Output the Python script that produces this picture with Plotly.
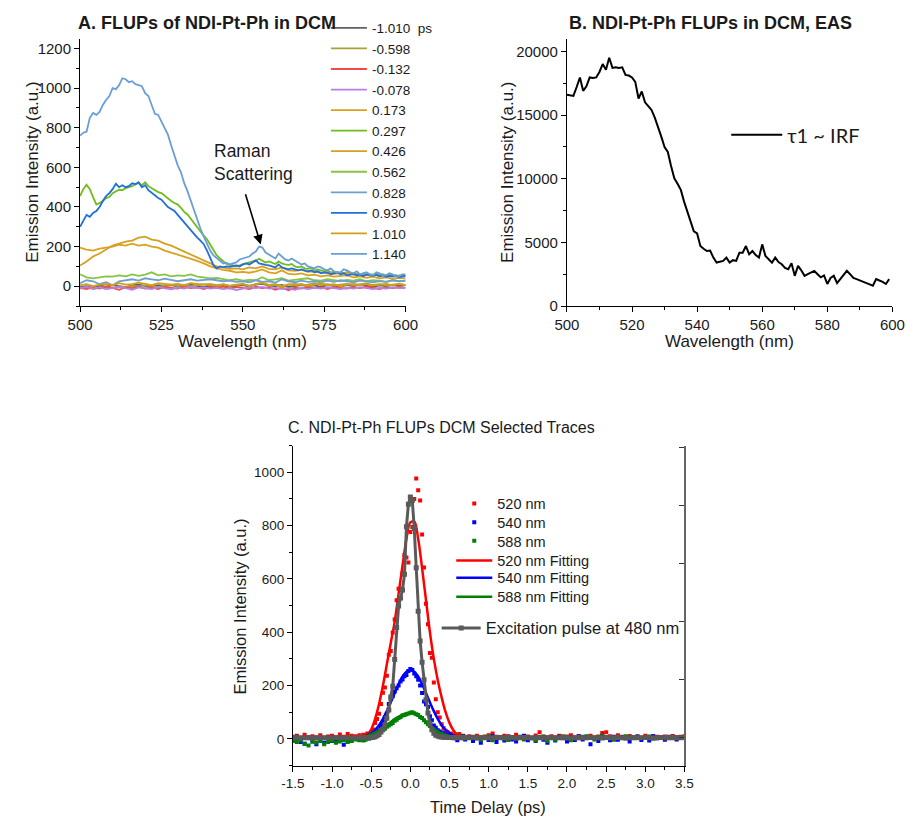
import plotly.graph_objects as go

W, H = 920, 827


def px(x):
    return x / W


def py(y):
    return 1 - y / H


FONT = "Arial, Liberation Sans, sans-serif"
INK = "#1a1a1a"

# ---------------- Panel A: FLUPs spectra at selected delays ----------------
wl_1nm = list(range(500, 601))
wl_2nm = list(range(500, 601, 2))

spec_m1010 = [-5, 0, -8, 3, -2, 5, 0, -6, 4, 8,
              2, -3, 5, 0, 6, -2, 4, 8, 2, -4,
              3, 0, 6, -3, 2, 5, -2, 8, 12, 3,
              0, 6, -4, 2, 5, 0, 4, -3, 6, 2,
              -2, 5, 0, 8, 3, -3, 4, 0, 6, 2,
              5]
spec_m0598 = [-12, -5, -15, -8, -2, -10, 0, -5, 2, -3,
              5, 0, -5, 3, 8, 0, 5, -2, 6, 10,
              4, 0, 8, 2, 5, 10, 3, 12, 18, 6,
              10, 2, 8, 12, 5, 8, 15, 6, 10, 4,
              8, 12, 5, 10, 14, 6, 10, 4, 8, 12,
              6]
spec_m0132 = [-8, -15, -5, -12, -2, -8, -18, -5, -10, -3,
              -12, -6, -15, -4, -8, -12, -2, -10, -6, -14,
              -4, -9, -2, -12, -5, -8, -15, -3, -10, -5,
              -18, -6, -20, -8, -12, -4, -10, -6, -15, -3,
              -8, -12, -5, -10, -2, -8, -14, -6, -10, -4,
              -8]
spec_m0078 = [-10, -3, -12, -6, -15, -8, -4, -10, -18, -6,
              -9, -14, -5, -10, -16, -7, -12, -4, -10, -6,
              -12, -8, -15, -10, -20, -12, -6, -10, -4, -12,
              -8, -14, -10, -18, -9, -15, -8, -12, -6, -10,
              -14, -8, -12, -5, -10, -15, -8, -12, -6, -10,
              -8]
spec_p0173 = [195, 185, 180, 190, 195, 200, 210, 205, 215, 205,
              210, 200, 195, 180, 170, 160, 150, 140, 128, 115,
              100, 90, 82, 78, 70, 72, 68, 75, 85, 70,
              65, 80, 62, 60, 65, 55, 58, 50, 55, 48,
              52, 55, 45, 50, 42, 48, 40, 45, 38, 42,
              40]
spec_p0297 = [455, 490, 512, 490, 450, 412, 420, 430, 445, 450,
              470, 480, 487, 485, 495, 500, 505, 515, 520, 510,
              525, 505, 495, 487, 475, 470, 455, 445, 430, 420,
              412, 395, 375, 362, 340, 318, 295, 275, 255, 237,
              210, 185, 155, 140, 125, 112, 108, 105, 102, 105,
              110, 115, 118, 122, 130, 138, 128, 120, 125, 118,
              112, 125, 115, 110, 108, 112, 100, 95, 100, 90,
              88, 92, 80, 85, 78, 75, 80, 70, 72, 68,
              70, 65, 72, 60, 65, 62, 58, 65, 55, 60,
              58, 62, 55, 60, 52, 58, 55, 50, 55, 52,
              55]
spec_p0426 = [105, 125, 150, 165, 185, 205, 215, 225, 230, 245,
              250, 235, 230, 215, 205, 190, 175, 160, 145, 130,
              115, 100, 95, 88, 90, 85, 95, 90, 100, 88,
              85, 95, 80, 78, 82, 72, 75, 68, 70, 62,
              65, 68, 58, 62, 55, 58, 52, 56, 50, 52,
              50]
spec_p0562 = [60, 45, 40, 45, 50, 48, 55, 50, 60, 52,
              58, 70, 55, 60, 50, 55, 52, 60, 48, 45,
              40, 42, 35, 30, 35, 28, 32, 30, 45, 30,
              35, 40, 28, 32, 35, 40, 30, 28, 35, 30,
              25, 32, 28, 35, 25, 30, 28, 22, 30, 25,
              28]
spec_p0828 = [15, 30, 25, 10, 20, 5, 25, 30, 35, 28,
              40, 35, 30, 38, 32, 25, 30, 35, 28, 32,
              35, 30, 25, 28, 22, 25, 20, 30, 22, 25,
              18, 35, 25, 20, 28, 22, 25, 20, 28, 22,
              30, 25, 20, 28, 24, 20, 26, 22, 30, 25,
              28]
spec_p0930 = [300, 330, 360, 350, 370, 380, 400, 430, 455, 470,
              490, 517, 500, 510, 500, 505, 520, 515, 525, 500,
              510, 485, 470, 460, 445, 437, 420, 400, 390, 380,
              360, 340, 325, 305, 285, 260, 245, 230, 212, 180,
              140, 105, 90, 100, 95, 100, 98, 100, 105, 100,
              110, 115, 110, 120, 130, 115, 110, 108, 105, 100,
              95, 110, 95, 90, 85, 90, 85, 80, 85, 80,
              75, 80, 70, 75, 65, 70, 68, 60, 65, 70,
              60, 65, 55, 60, 62, 55, 58, 50, 60, 55,
              52, 58, 50, 55, 48, 52, 50, 55, 45, 50,
              52]
spec_p1010 = [5, 10, 0, 8, 12, 5, 15, 8, 10, 18,
              12, 5, 15, 10, 8, 12, 5, 15, 10, 8,
              12, 5, 10, 2, 8, 12, 0, 10, 15, 5,
              8, -5, 10, 5, 12, 2, 8, 15, 5, 10,
              0, 8, 12, 5, 10, 3, 8, 12, 5, 10,
              6]
spec_p1140 = [760, 775, 780, 850, 875, 865, 880, 915, 940, 960,
              1000, 995, 1015, 1050, 1045, 1030, 1035, 1020, 1015, 1010,
              975, 960, 915, 870, 865, 830, 800, 765, 710, 660,
              610, 575, 520, 480, 430, 385, 330, 290, 250, 210,
              180, 155, 140, 125, 115, 118, 110, 115, 120, 135,
              140, 145, 150, 165, 175, 200, 195, 170, 160, 150,
              140, 165, 150, 135, 130, 140, 130, 120, 110, 115,
              100, 95, 90, 100, 95, 85, 80, 90, 75, 70,
              70, 85, 80, 70, 65, 75, 60, 65, 70, 60,
              55, 70, 65, 55, 55, 65, 60, 50, 50, 60,
              60]

delay_labels = ["-1.010\u00a0\u00a0ps", "-0.598", "-0.132", "-0.078", "0.173", "0.297",
                "0.426", "0.562", "0.828", "0.930", "1.010", "1.140"]
delay_spectra = [spec_m1010, spec_m0598, spec_m0132, spec_m0078, spec_p0173, spec_p0297,
                 spec_p0426, spec_p0562, spec_p0828, spec_p0930, spec_p1010, spec_p1140]
delay_grids = [wl_2nm, wl_2nm, wl_2nm, wl_2nm, wl_2nm, wl_1nm,
               wl_2nm, wl_2nm, wl_2nm, wl_1nm, wl_2nm, wl_1nm]
delay_colors = ["#606060", "#a3a33a", "#f24a4a", "#b77fe6", "#d9a21b", "#70bd1c",
                "#d6a020", "#88c443", "#6d9fd4", "#1f6fde", "#d49f15", "#6a9ed6"]

# ---------------- Panel B: EAS component ----------------
eas_wl = list(range(500, 600))
eas_amp = [16590, 16550, 16500, 17200, 17950, 16900, 17250, 17950, 17900, 17950,
           18380, 19000, 18550, 19500, 18700, 18750, 18700, 18750, 18150, 18100,
           17950, 17600, 16300, 16850, 16000, 15700, 15400, 14800, 14100, 13300,
           12480, 12100, 11000, 10030, 9600, 9120, 8200, 7420, 6800, 5870,
           5700, 4710, 4500, 4320, 4350, 3800, 3410, 3450, 3540, 3800,
           3410, 3600, 3540, 4190, 4190, 4710, 4060, 4320, 4000, 3800,
           4840, 3930, 3700, 3410, 3800, 3450, 3280, 3000, 2890, 3350,
           2370, 3150, 2800, 2370, 2500, 2650, 2760, 2500, 2250, 2400,
           1730, 2200, 2370, 1800, 2100, 2400, 2760, 2500, 2200, 2110,
           2000, 1860, 1800, 1700, 1600, 2110, 2000, 1900, 1730, 2110]

# ---------------- Panel C: kinetic traces ----------------
t_pre = [round(-1.5 + 0.05 * i, 3) for i in range(18)]
t_peak = [round(-0.6 + 0.025 * i, 3) for i in range(53)]
t_post = [round(0.75 + 0.05 * i, 3) for i in range(56)]
time_ps = t_pre + t_peak + t_post

trace_520 = ([8, 12, 5, 15, 3, 10, 6, 14, 4, 9, 12, 5, 16, 8, 18, 12, 10, 14]
             + [15, 12, 20, 18, 26, 35, 60, 75, 94, 131,
                173, 193, 237, 316, 330, 399, 448, 520, 563, 563,
                620, 690, 680, 662, 776,
                795, 900, 977, 933, 894, 767, 643, 507, 430, 322,
                304, 211, 149, 100, 80, 55, 40, 30, 26, 18,
                20, 12, 15, 10, 18, 8, 12, 6]
             + [10, 6, 12, 4, 9, 14, 20, 8, 5, 12,
                10, 7, 15, 6, 11, 9, 4, 13, 25, 8,
                6, 10, 5, 12, 7, 9, 14, 6, 10, 4,
                8, 12, 5, 9, 22, 25, 10, 6, 14, 8,
                5, 11, 7, 9, 4, 12, 6, 10, 8, 5,
                9, 7, 11, 6, 8, 10])
trace_540 = ([-5, 8, -12, -18, 2, -10, -20, -5, -15, 4, -8, -12, -3, -22, -10, -6, 2, -4]
             + [5, -2, 8, 3, 12, 10, 18, 25, 32, 48,
                63, 80, 94, 131, 150, 160, 178, 190, 200, 215,
                223, 235, 240, 255, 262,
                258, 245, 235, 222, 200, 172, 140, 130, 120, 85,
                70, 50, 42, 32, 28, 24, 20, 15, 10, 12,
                4, 6, 2, -5, 8, 3, 10, -2]
             + [5, -8, 2, -15, 6, -4, 10, -12, 3, -6,
                8, -2, -10, 4, 12, -5, 2, -8, 6, -3,
                -15, 4, -6, 8, 2, -10, 5, -4, 10, -2,
                6, -20, 3, -8, 12, 4, -5, 8, -3, 6,
                2, -10, 4, 9, -4, 6, -6, 10, 2, 5,
                -3, 8, 4, -2, 6, 3])
trace_588 = ([-8, -12, -5, -18, -25, -10, -15, -8, -20, -12, -6, -15, -10, -4, -12, -8, -2, -5]
             + [-6, -2, 2, 0, 5, 8, 12, 15, 22, 28,
                32, 38, 45, 50, 55, 60, 68, 72, 78, 82,
                88, 90, 92, 95, 98,
                100, 96, 92, 90, 82, 78, 70, 62, 55, 48,
                40, 35, 30, 25, 20, 18, 14, 12, 10, 8,
                6, 5, 8, 3, 12, 5, 8, 2]
             + [4, 8, 2, -3, 6, 10, -5, 3, 7, 0,
                -4, 5, 2, 8, -2, 6, 3, -6, 4, 9,
                -8, 2, -3, 6, 10, 1, -5, 4, 2, 8,
                10, 3, -2, 5, 12, 6, 2, -3, 8, 4,
                10, 6, 2, 8, 3, 5, 9, 1, 4, 6,
                3, 7, 2, 5, 4, 6])
# excitation pulse, in units of the right-hand axis
pulse_480 = ([0, 1, -1, 0, 1, 0, -1, 1, 0, 0, -1, 1, 0, 0, 1, 0, -1, 1]
             + [0, 0, 1, 1, 1, 2, 4, 7, 11, 20,
                30, 45, 67, 96, 140, 177, 269, 379, 453, 481,
                508, 563, 726, 803, 828,
                816, 720, 585, 435, 333, 260, 200, 131, 85, 50,
                28, 16, 9, 6, 4, 3, 2, 2, 1, 1,
                1, 0, 1, 0, 1, 0, 0, 1]
             + [0, 1, 0, 1, 0, -1, 0, 1, 0, 0,
                1, 0, -1, 0, 1, 0, 0, 1, 0, -1,
                0, 1, 0, 0, 1, 0, 0, -1, 1, 0,
                0, 1, 0, 0, -1, 1, 0, 0, 1, 0,
                -1, 0, 1, 0, 0, 1, 0, -1, 0, 1,
                0, 0, 1, 0, 0, 1])

fit_t = [-1.5, -0.8, -0.7, -0.6, -0.55, -0.5, -0.45, -0.4, -0.35, -0.3, -0.25, -0.2, -0.15,
         -0.1, -0.05, 0.0, 0.05, 0.1, 0.15, 0.2, 0.25, 0.3, 0.35, 0.4, 0.45, 0.5, 0.55, 0.6,
         0.7, 0.8, 3.5]
fit_520 = [2, 2, 3, 6, 14, 35, 75, 130, 200, 280, 360, 440, 545, 650, 750, 812, 815, 750,
           640, 520, 400, 300, 220, 155, 100, 60, 32, 16, 6, 3, 3]
fit_540 = [2, 2, 4, 8, 13, 22, 34, 51, 75, 104, 137, 172, 205, 234, 252, 258, 252, 234,
           205, 172, 137, 104, 75, 51, 34, 22, 13, 8, 4, 2, 2]
fit_588 = [2, 3, 5, 9, 12, 18, 24, 32, 41, 52, 63, 74, 83, 91, 95, 97, 95, 88, 76, 64,
           51, 38, 27, 18, 12, 8, 5, 4, 3, 3, 3]

for name, arr in [("trace_520", trace_520), ("trace_540", trace_540),
                  ("trace_588", trace_588), ("pulse_480", pulse_480)]:
    if len(arr) != len(time_ps):
        raise ValueError(f"{name}: {len(arr)} != {len(time_ps)}")
for lab, g, s in zip(delay_labels, delay_grids, delay_spectra):
    if len(g) != len(s):
        raise ValueError(f"{lab}: {len(s)} != {len(g)}")
if len(eas_amp) != len(eas_wl):
    raise ValueError("eas")

fig = go.Figure()

for lab, g, s, c in zip(delay_labels, delay_grids, delay_spectra, delay_colors):
    fig.add_trace(go.Scatter(x=g, y=s, mode="lines", name=lab,
                             line=dict(color=c, width=1.8),
                             xaxis="x", yaxis="y", legend="legend"))

fig.add_trace(go.Scatter(x=eas_wl, y=eas_amp, mode="lines", name="\u03c41 ~ IRF",
                         line=dict(color="black", width=2),
                         xaxis="x2", yaxis="y2", legend="legend2"))

pt_specs = [("520 nm", trace_520, "#ff0000", "legend3"),
            ("540 nm", trace_540, "#0000ff", "legend4"),
            ("588 nm", trace_588, "#008000", "legend5")]
for name, vals, col, lg in pt_specs:
    fig.add_trace(go.Scatter(x=time_ps, y=vals, mode="markers", name=name,
                             marker=dict(symbol="square", size=4, color=col),
                             xaxis="x3", yaxis="y3", legend=lg))

fit_specs = [("520 nm Fitting", fit_520, "#ff0000", "legend6"),
             ("540 nm Fitting", fit_540, "#0000ff", "legend7"),
             ("588 nm Fitting", fit_588, "#008000", "legend8")]
for name, vals, col, lg in fit_specs:
    fig.add_trace(go.Scatter(x=fit_t, y=vals, mode="lines", name=name,
                             line=dict(color=col, width=2.5, shape="spline", smoothing=1),
                             xaxis="x3", yaxis="y3", legend=lg))

fig.add_trace(go.Scatter(x=time_ps, y=pulse_480, mode="lines+markers",
                         name="Excitation pulse at 480 nm",
                         line=dict(color="#5a5a5a", width=3),
                         marker=dict(symbol="square", size=5, color="#5a5a5a"),
                         xaxis="x3", yaxis="y4", legend="legend9"))

# ---------------- axes ----------------
axis_common = dict(showgrid=False, zeroline=False, showline=True, linecolor="black",
                   linewidth=1, ticks="outside", ticklen=5, tickcolor="black",
                   tickfont=dict(family=FONT, size=15, color=INK), mirror=False)

fig.update_layout(
    xaxis=dict(axis_common, domain=[px(69), px(404)], range=[500, 600], anchor="y",
               tick0=500, dtick=25,
               minor=dict(ticks="outside", ticklen=3, dtick=12.5, tickcolor="black")),
    yaxis=dict(axis_common, domain=[py(309), py(39)], range=[-100, 1250], anchor="x",
               tick0=0, dtick=200, tickformat="d",
               minor=dict(ticks="outside", ticklen=3, dtick=100, tickcolor="black")),
    xaxis2=dict(axis_common, domain=[px(570), px(905)], range=[500, 600], anchor="y2",
                tick0=500, dtick=20,
                minor=dict(ticks="outside", ticklen=3, dtick=10, tickcolor="black")),
    yaxis2=dict(axis_common, domain=[py(309), py(39)], range=[0, 21000], anchor="x2",
                tick0=0, dtick=5000, tickformat="d",
                minor=dict(ticks="outside", ticklen=3, dtick=2500, tickcolor="black")),
    xaxis3=dict(axis_common, domain=[px(288), px(691)], range=[-1.5, 3.5], anchor="y3",
                tickvals=[-1.5, -1.0, -0.5, 0.0, 0.5, 1.0, 1.5, 2.0, 2.5, 3.0, 3.5],
                ticktext=["-1.5", "-1.0", "-0.5", "0.0", "0.5", "1.0", "1.5", "2.0",
                          "2.5", "3.0", "3.5"],
                tickfont=dict(family=FONT, size=13.5, color=INK),
                minor=dict(ticks="outside", ticklen=3, dtick=0.25, tick0=-1.5,
                           tickcolor="black")),
    yaxis3=dict(axis_common, domain=[py(773), py(450)], range=[-100, 1100], anchor="x3",
                tick0=0, dtick=200, tickformat="d",
                tickfont=dict(family=FONT, size=13.5, color=INK),
                minor=dict(ticks="outside", ticklen=3, dtick=100, tickcolor="black")),
    yaxis4=dict(overlaying="y3", anchor="x3", side="right", range=[-95.4, 1005],
                showgrid=False, zeroline=False, showline=True, linecolor="#666666",
                linewidth=2, ticks="inside", ticklen=5, tickcolor="#333333",
                tick0=0, dtick=200, showticklabels=False),
)

# ---------------- legends ----------------
clear = "rgba(0,0,0,0)"


def legend_at(left, top, size, itemwidth, family=FONT):
    return dict(x=px(left), y=py(top), xanchor="left", yanchor="top", bgcolor=clear,
                borderwidth=0, itemwidth=itemwidth, tracegroupgap=0,
                font=dict(family=family, size=size, color=INK))


c_rows = [508.3, 527.3, 546.0, 565.7, 583.3, 602.3]
c_size = 14.5
c_half = (c_size * 1.3 + 3) / 2 + 5

fig.update_layout(
    showlegend=True,
    legend=legend_at(322, 28 - 5 - (13.5 * 1.3 + 3) / 2, 13.5, 36),
    legend2=legend_at(734, 136 - 5 - (20 * 1.3 + 3) / 2, 20, 51,
                      family="Lato, Noto Sans, sans-serif"),
    legend3=legend_at(451, c_rows[0] - c_half, c_size, 36),
    legend4=legend_at(451, c_rows[1] - c_half, c_size, 36),
    legend5=legend_at(451, c_rows[2] - c_half, c_size, 36),
    legend6=legend_at(451, c_rows[3] - c_half, c_size, 36),
    legend7=legend_at(451, c_rows[4] - c_half, c_size, 36),
    legend8=legend_at(451, c_rows[5] - c_half, c_size, 36),
    legend9=legend_at(436, 634 - 5 - (16.5 * 1.3 + 3) / 2, 16.5, 39),
)

# ---------------- titles and labels ----------------
def label(text, x, y, size, angle=0, xanchor="center", bold=False):
    return dict(text=f"<b>{text}</b>" if bold else text, x=px(x), y=py(y),
                xref="paper", yref="paper", xanchor=xanchor, yanchor="middle",
                showarrow=False, textangle=angle,
                font=dict(family=FONT, size=size, color=INK))


annotations = [
    label("A. FLUPs of NDI-Pt-Ph in DCM", 65, 23, 18, xanchor="left", bold=True),
    label("B. NDI-Pt-Ph FLUPs in DCM, EAS", 570, 23, 18, xanchor="left", bold=True),
    label("C. NDI-Pt-Ph FLUPs DCM Selected Traces", 441, 432, 16),
    label("Emission Intensity (a.u.)", 20, 174, 17, angle=-90),
    label("Wavelength (nm)", 236, 345, 17),
    label("Emission Intensity (a.u.)", 509, 174, 17, angle=-90),
    label("Wavelength (nm)", 737, 345, 17),
    label("Emission Intensity (a.u.)", 234, 612, 16.5, angle=-90),
    label("Time Delay (ps)", 489, 815, 16.5),
    dict(text="Raman<br>Scattering", x=px(205), y=py(164.5), xref="paper", yref="paper",
         xanchor="left", yanchor="middle", align="left", showarrow=False,
         font=dict(family=FONT, size=17.5, color=INK)),
    dict(text="", x=555.5, y=211, xref="x", yref="y", ax=-15.7, ay=-51.7,
         axref="pixel", ayref="pixel", showarrow=True, arrowhead=2, arrowsize=1.2,
         arrowwidth=1.6, arrowcolor="black", standoff=0),
]

fig.update_layout(
    width=W, height=H, margin=dict(l=0, r=0, t=0, b=0),
    paper_bgcolor="white", plot_bgcolor="white",
    font=dict(family=FONT, color=INK),
    annotations=annotations,
)

fig.write_html("out.html")
